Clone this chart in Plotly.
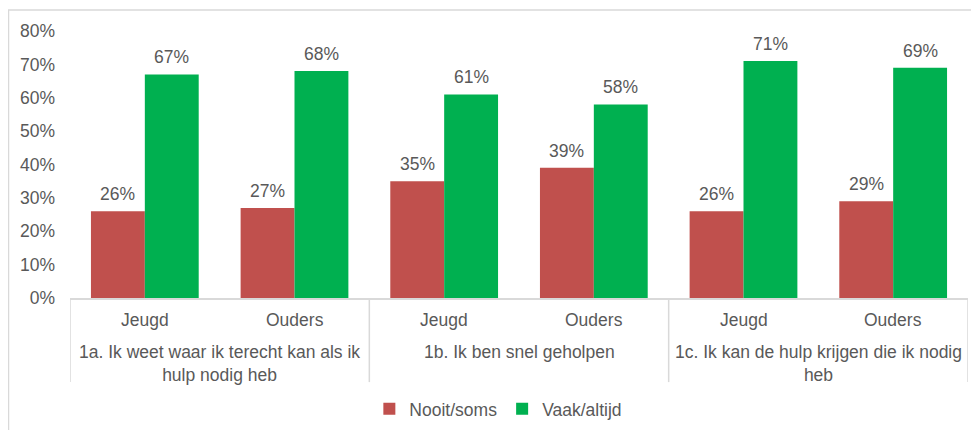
import plotly.graph_objects as go

# Data
groups = [
    "1a. Ik weet waar ik terecht kan als ik<br>hulp nodig heb",
    "1b. Ik ben snel geholpen",
    "1c. Ik kan de hulp krijgen die ik nodig<br>heb",
]
subgroups = ["Jeugd", "Ouders"]
nooit_soms = [0.26, 0.27, 0.35, 0.39, 0.26, 0.29]
vaak_altijd = [0.67, 0.68, 0.61, 0.58, 0.71, 0.69]
y_ticks = [0, 0.1, 0.2, 0.3, 0.4, 0.5, 0.6, 0.7, 0.8]

RED = "#C0504D"
GREEN = "#00B050"
TXT = "#595959"
LINE = "#D9D9D9"
FONT = "Arial, Liberation Sans, sans-serif"
FS = 17.5

n_sub = len(subgroups)
positions = list(range(len(groups) * n_sub))
sub_labels = [s for _ in groups for s in subgroups]

fig = go.Figure()
fig.add_trace(go.Bar(x=positions, y=nooit_soms, name="Nooit/soms",
                     marker=dict(color=RED, line=dict(width=0)),
                     hoverinfo="skip"))
fig.add_trace(go.Bar(x=positions, y=vaak_altijd, name="Vaak/altijd",
                     marker=dict(color=GREEN, line=dict(width=0)),
                     hoverinfo="skip"))

BAR_W = 0.36   # each bar's width in category units (bargap 0.28, two bars)
annotations = []

# ── Value labels above bars ─────────────────────────────────────────
for offset, values in ((-BAR_W / 2, nooit_soms), (BAR_W / 2, vaak_altijd)):
    for p, v in zip(positions, values):
        annotations.append(dict(
            x=p + offset, y=v, xref="x", yref="y",
            text=f"{v:.0%}", showarrow=False,
            yanchor="bottom", yshift=5,
            font=dict(family=FONT, size=FS, color=TXT),
        ))

# ── Category labels (two levels) ────────────────────────────────────
for p, lab in zip(positions, sub_labels):
    annotations.append(dict(
        x=p, y=0, xref="x", yref="paper", text=lab, showarrow=False,
        yanchor="middle", yshift=-22,
        font=dict(family=FONT, size=FS, color=TXT),
    ))
for gi, g in enumerate(groups):
    annotations.append(dict(
        x=gi * n_sub + (n_sub - 1) / 2, y=0, xref="x", yref="paper",
        text=g, showarrow=False, yanchor="top", yshift=-42,
        font=dict(family=FONT, size=FS, color=TXT),
    ))

# ── Divider lines of the category box ──────────────────────────────
shapes = []
for gi in range(len(groups) + 1):
    shapes.append(dict(
        type="line", xref="x", yref="paper",
        x0=gi * n_sub - 0.5, x1=gi * n_sub - 0.5, y0=0, y1=-0.315,
        line=dict(color=LINE, width=1.5),
    ))
# outer chart border
shapes.append(dict(
    type="rect", xref="paper", yref="paper",
    x0=-0.0685, x1=1.05, y0=-0.6, y1=1.0787,
    line=dict(color=LINE, width=1.5),
))

# the page adds an 8px body margin, so the figure is sized/offset for it
fig.update_layout(
    width=971, height=422,
    margin=dict(l=62, r=11, t=23, b=132),
    paper_bgcolor="white", plot_bgcolor="white",
    barmode="group", bargap=0.28, bargroupgap=0,
    font=dict(family=FONT, size=FS, color=TXT),
    showlegend=True,
    legend=dict(
        orientation="h", xref="container", yref="container",
        x=0.505, xanchor="center", y=0.05, yanchor="middle",
        font=dict(family=FONT, size=FS, color=TXT),
        itemwidth=30, traceorder="normal",
    ),
    annotations=annotations,
    shapes=shapes,
)
fig.update_xaxes(
    range=[-0.5, len(positions) - 0.5],
    showticklabels=False, ticks="", showgrid=False, zeroline=False,
    showline=True, linecolor=LINE, linewidth=1.5,
)
fig.update_yaxes(
    range=[0, 0.8], tickvals=y_ticks, tickformat=".0%",
    showgrid=False, zeroline=False, showline=False,
    ticks="", ticklabelstandoff=14,
    tickfont=dict(family=FONT, size=FS, color=TXT),
)

fig.write_html("out.html")
